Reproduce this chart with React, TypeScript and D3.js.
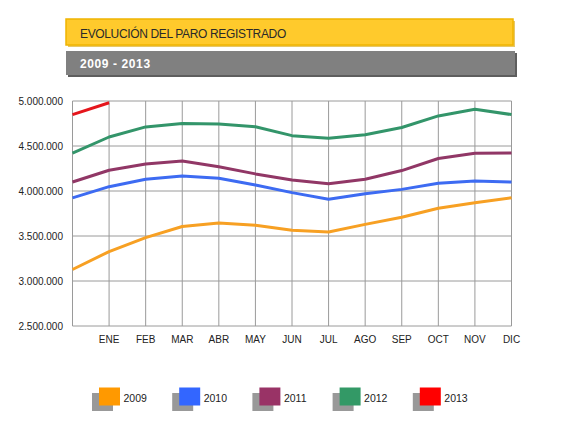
import React from "react";
import * as d3 from "d3";

const months = ["", "ENE", "FEB", "MAR", "ABR", "MAY", "JUN", "JUL", "AGO", "SEP", "OCT", "NOV", "DIC"];
const yTicks = [2500000, 3000000, 3500000, 4000000, 4500000, 5000000];

const years = ["2009", "2010", "2011", "2012", "2013"];
const colors = ["#F7A023", "#3D6BF2", "#913766", "#33956A", "#E5161C"];
const legendColors = ["#FF9900", "#3366FF", "#993366", "#339966", "#FF0000"];

const s2009 = [3128000, 3327000, 3482000, 3605000, 3644000, 3620000, 3565000, 3544000, 3629000, 3709000, 3808000, 3869000, 3924000];
const s2010 = [3924000, 4048000, 4131000, 4167000, 4142000, 4066000, 3982000, 3909000, 3970000, 4018000, 4086000, 4110000, 4100000];
const s2011 = [4100000, 4231000, 4299000, 4334000, 4269000, 4190000, 4122000, 4080000, 4131000, 4227000, 4361000, 4420000, 4422000];
const s2012 = [4422000, 4600000, 4712000, 4751000, 4744000, 4714000, 4615000, 4587000, 4626000, 4705000, 4834000, 4908000, 4849000];
const s2013 = [4849000, 4981000];
const series = [s2009, s2010, s2011, s2012, s2013];

const fmt = (v: number) => d3.format(",")(v).replace(/,/g, ".");

export default function App() {
  const left = 72.5, right = 511.5, top = 101, bottom = 326;
  const x = d3.scaleLinear().domain([0, 12]).range([left, right]);
  const y = d3.scaleLinear().domain([2500000, 5000000]).range([bottom, top]);
  const line = d3.line<number>().x((_, i) => x(i)).y((d) => y(d)).curve(d3.curveLinear);
  const font = "'Liberation Sans', Arial, sans-serif";

  return (
    <svg width={570} height={421} style={{ position: "absolute", left: 0, top: 0, background: "#fff" }} fontFamily={font}>
      {/* title boxes */}
      <rect x={68} y={21} width={447} height={26} fill="#D9A400" opacity={0.6} />
      <rect x={66} y={19} width={447} height={26} fill="#FFCA2C" stroke="#F0B400" strokeWidth={1.5} />
      <text x={80} y={38} fontSize={12} fill="#2a2a2a" letterSpacing={-0.35}>EVOLUCIÓN DEL PARO REGISTRADO</text>
      <rect x={68} y={53} width={449} height={24} fill="#5E5E5E" />
      <rect x={66} y={51} width={449} height={24} fill="#808080" />
      <text x={80} y={68} fontSize={12} fontWeight="bold" fill="#ffffff" letterSpacing={0.6}>2009 - 2013</text>

      {/* grid */}
      {yTicks.map((t) => (
        <line key={"h" + t} x1={left} x2={right} y1={y(t)} y2={y(t)} stroke="#9a9a9a" strokeWidth={1} />
      ))}
      {months.map((m, i) => (
        <line key={"v" + i} x1={x(i)} x2={x(i)} y1={top} y2={bottom} stroke="#9a9a9a" strokeWidth={1} />
      ))}
      {yTicks.map((t) => (
        <text key={"yl" + t} x={63} y={y(t) + 3.5} fontSize={10} textAnchor="end" fill="#222">{fmt(t)}</text>
      ))}
      {months.map((m, i) => (
        <text key={"xl" + i} x={x(i)} y={343} fontSize={10} textAnchor="middle" fill="#222">{m}</text>
      ))}

      {/* lines */}
      {series.map((s, k) => (
        <path key={"s" + k} d={line(s) || ""} fill="none" stroke={colors[k]} strokeWidth={3} strokeLinejoin="round" />
      ))}

      {/* legend */}
      {years.map((yr, k) => {
        const lx = 99 + k * 80.2;
        return (
          <g key={"lg" + yr}>
            <rect x={lx - 7} y={393} width={21} height={18} fill="#999999" />
            <rect x={lx} y={387.5} width={21} height={18} fill={legendColors[k]} />
            <text x={lx + 24.5} y={401.5} fontSize={10.5} fill="#222">{yr}</text>
          </g>
        );
      })}
    </svg>
  );
}
